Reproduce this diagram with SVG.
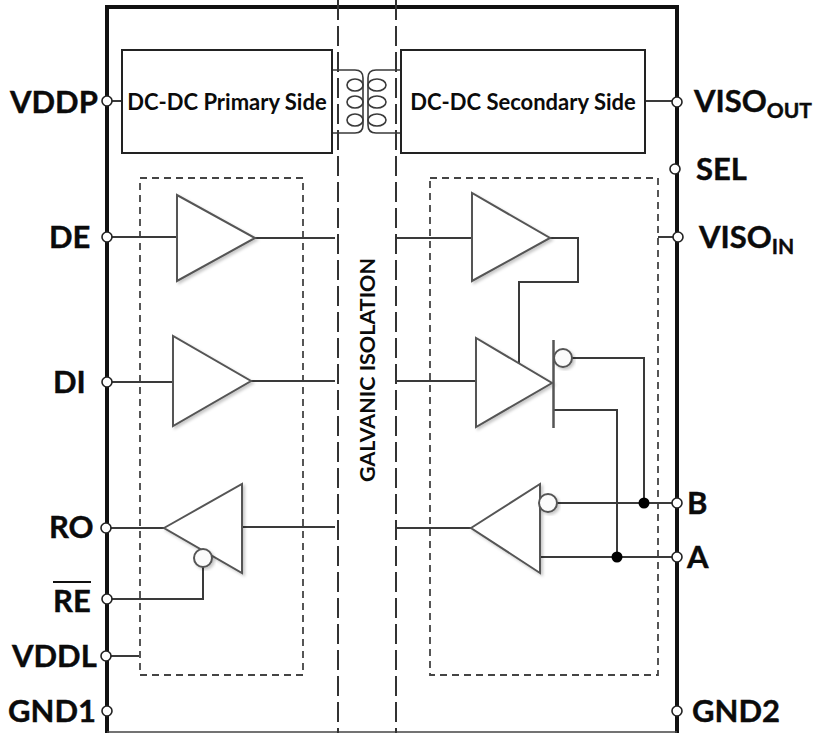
<svg xmlns="http://www.w3.org/2000/svg" width="813" height="733" viewBox="0 0 813 733">
<defs>
<filter id="sh" x="-20%" y="-20%" width="140%" height="140%"><feDropShadow dx="2" dy="2" stdDeviation="1.5" flood-color="#000" flood-opacity="0.22"/></filter>
</defs>
<style>
.w{fill:none;stroke:#3a3a3a;stroke-width:2}
.c{fill:none;stroke:#3a3a3a;stroke-width:1.600}
.tri{fill:#fff;stroke:#555;stroke-width:2;stroke-linejoin:miter;filter:url(#sh)}
.bub{fill:#fbfbfb;stroke:#555;stroke-width:2;filter:url(#sh)}
.box{fill:#fff;stroke:#222;stroke-width:2}
.dash{fill:none;stroke:#444;stroke-width:1.800;stroke-dasharray:7 5}
.iso{fill:none;stroke:#333;stroke-width:2;stroke-dasharray:20 6}
.pin{fill:#fff;stroke:#222;stroke-width:1.600}
.dot{fill:#000}
.l{font-family:"Lato","Open Sans","Liberation Sans",sans-serif;font-weight:700;font-size:31px;fill:#0b0b0b;stroke:#0b0b0b;stroke-width:.4}
.s{font-size:21px}
.b{font-family:"Lato","Open Sans","Liberation Sans",sans-serif;font-weight:700;font-size:21.500px;fill:#0b0b0b;text-anchor:middle}
.t{font-size:22px}
</style>
<rect width="813" height="733" fill="#fff"/>
<g id="package"><path d="M107 733V7H677V733" fill="none" stroke="#111" stroke-width="4"/><path d="M107 732H677" fill="none" stroke="#444" stroke-width="1.500"/></g>
<g id="isolation-barrier"><path class="iso" d="M338 0V733"/><path class="iso" d="M396 0V733"/>
<text class="b" transform="translate(375 370) rotate(-90)">GALVANIC ISOLATION</text></g>
<g id="low-side-frame"><rect class="dash" x="140" y="178" width="163" height="497"/></g>
<g id="high-side-frame"><rect class="dash" x="430" y="178" width="228" height="497"/></g>
<g id="connectors">
<path class="w" d="M107 101H122M645 101H677"/>
<path class="c" d="M332 70H355Q363 70 363 78V125Q363 133 355 133H332"/>
<ellipse class="c" cx="355" cy="85" rx="8" ry="6"/><ellipse class="c" cx="355" cy="102" rx="8" ry="6"/><ellipse class="c" cx="355" cy="120" rx="8" ry="6"/>
<path class="c" d="M401 70H376Q368 70 368 78V125Q368 133 376 133H401"/>
<ellipse class="c" cx="377" cy="85" rx="9" ry="6"/><ellipse class="c" cx="377" cy="102" rx="9" ry="6"/><ellipse class="c" cx="377" cy="120" rx="9" ry="6"/>
<path class="w" d="M107 237H177M255 238H335"/>
<path class="w" d="M107 382H173M251 381H335"/>
<path class="w" d="M107 528H164M242 527H335"/>
<path class="w" d="M107 599H203V567"/>
<path class="w" d="M107 656H139"/>
<path class="w" d="M397 238H472M550 238H578V282H519V363"/>
<path class="w" d="M397 381H476"/>
<path class="w" d="M397 528H471"/>
<path class="w" d="M572 358H644V503"/>
<path class="w" d="M553 410H617V557"/>
<path class="w" d="M557 503H677"/>
<path class="w" d="M540 557H677"/>
<path class="w" d="M658 237H677"/>
<circle class="dot" cx="644" cy="503" r="5.500"/>
<circle class="dot" cx="617" cy="557" r="5.500"/>
</g>
<g id="dcdc-primary"><rect class="box" x="122" y="50" width="210" height="103"/><text class="b t" x="227" y="110">DC-DC Primary Side</text></g>
<g id="dcdc-secondary"><rect class="box" x="401" y="50" width="244" height="103"/><text class="b t" x="523" y="110">DC-DC Secondary Side</text></g>
<g id="de-driver"><polygon class="tri" points="177,195 177,281 255,238"/></g>
<g id="di-driver"><polygon class="tri" points="173,336 173,426 251,381"/></g>
<g id="ro-receiver"><polygon class="tri" points="164,528 242,484 242,573"/><circle class="bub" cx="203" cy="558" r="9"/></g>
<g id="de-iso-driver"><polygon class="tri" points="472,193 472,281 550,238"/></g>
<g id="di-iso-driver"><polygon class="tri" points="476,338 476,427 552,383"/><path d="M553.500 340V428" fill="none" stroke="#555" stroke-width="2.500"/><circle class="bub" cx="563" cy="358" r="9"/></g>
<g id="ro-iso-receiver"><polygon class="tri" points="471,528 540,484 540,573"/><circle class="bub" cx="548" cy="503" r="9"/></g>
<g id="pins">
<circle class="pin" cx="107" cy="101" r="5"/><circle class="pin" cx="107" cy="237" r="5"/><circle class="pin" cx="107" cy="382" r="5"/><circle class="pin" cx="106" cy="528" r="5"/><circle class="pin" cx="107" cy="599" r="5"/><circle class="pin" cx="106" cy="656" r="5"/><circle class="pin" cx="107" cy="711" r="5"/>
<circle class="pin" cx="677" cy="102" r="5"/><circle class="pin" cx="675" cy="169" r="5"/><circle class="pin" cx="678" cy="237" r="5"/><circle class="pin" cx="677" cy="503" r="5"/><circle class="pin" cx="677" cy="557" r="5"/><circle class="pin" cx="677" cy="711" r="5"/>
</g>
<g id="labels">
<text class="l" x="10" y="113">VDDP</text>
<text class="l" x="49" y="248">DE</text>
<text class="l" x="53" y="393">DI</text>
<text class="l" x="49" y="538">RO</text>
<text class="l" x="53" y="612">RE</text>
<path d="M53 582H91" fill="none" stroke="#111" stroke-width="2"/>
<text class="l" x="12" y="667">VDDL</text>
<text class="l" x="8" y="722">GND1</text>
<text class="l" x="694" y="112">VISO<tspan class="s" dy="6">OUT</tspan></text>
<text class="l" x="696" y="180">SEL</text>
<text class="l" x="699" y="248">VISO<tspan class="s" dy="6">IN</tspan></text>
<text class="l" x="687" y="514">B</text>
<text class="l" x="687" y="568">A</text>
<text class="l" x="692" y="722">GND2</text>
</g>
</svg>
